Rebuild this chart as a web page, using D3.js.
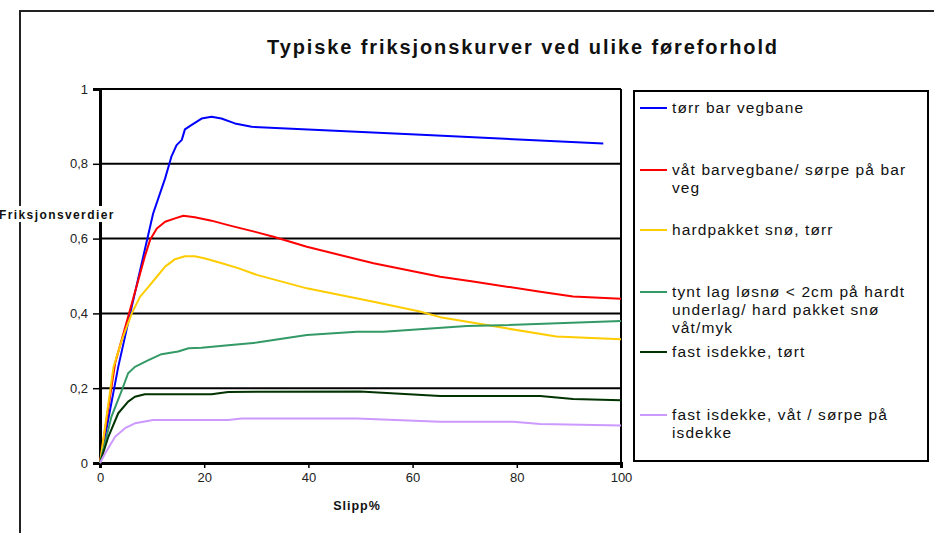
<!DOCTYPE html>
<html><head><meta charset="utf-8">
<script src="https://cdn.jsdelivr.net/npm/d3@7"></script>
<style>body{margin:0;background:#fff}svg{display:block;font-family:"Liberation Sans",Arial,sans-serif}</style>
</head><body><svg id="c" width="934" height="533"></svg>
<script>
const title = "Typiske friksjonskurver ved ulike føreforhold";
const yTitle = "Friksjonsverdier";
const xTitle = "Slipp%";
const xTicks = [0, 20, 40, 60, 80, 100];
const yTicks = [0, 0.2, 0.4, 0.6, 0.8, 1];
const seriesNames = ["tørr bar vegbane", "våt barvegbane/ sørpe på bar veg", "hardpakket snø, tørr", "tynt lag løsnø < 2cm på hardt underlag/ hard pakket snø våt/myk", "fast isdekke, tørt", "fast isdekke, våt / sørpe på isdekke"];
const legendLines = [["tørr bar vegbane"], ["våt barvegbane/ sørpe på bar", "veg"], ["hardpakket snø, tørr"], ["tynt lag løsnø < 2cm på hardt", "underlag/ hard pakket snø", "våt/myk"], ["fast isdekke, tørt"], ["fast isdekke, våt / sørpe på", "isdekke"]];
const colors = ["#0000ff", "#ff0000", "#ffcc00", "#339966", "#003300", "#cc99ff"];
// [slipp %, friction]
const blue = [[0,0],[3.5,0.257],[5.8,0.40],[8.6,0.57],[10.2,0.667],[12.5,0.761],[13.7,0.819],[14.7,0.85],[15.7,0.864],[16.3,0.892],[17.6,0.904],[19.5,0.921],[21.4,0.926],[23.3,0.921],[25.9,0.908],[29.1,0.899],[62.7,0.877],[96.6,0.854]];
const red = [[0,0],[2.9,0.267],[5.4,0.391],[7.35,0.489],[8.6,0.552],[9.6,0.596],[10.9,0.627],[12.5,0.645],[14.4,0.654],[16.0,0.661],[18.2,0.657],[21.4,0.648],[24.6,0.636],[29.8,0.618],[33.3,0.605],[39.7,0.578],[52.5,0.534],[65.3,0.498],[71.6,0.485],[84.5,0.458],[90.8,0.445],[100,0.439]];
const yellow = [[0,0],[2.6,0.257],[4.2,0.329],[6.1,0.40],[7.7,0.445],[9.3,0.471],[10.9,0.498],[12.5,0.525],[14.4,0.545],[16.3,0.553],[18.2,0.553],[20.2,0.547],[23.4,0.534],[26.5,0.521],[30.1,0.503],[39.7,0.467],[52.5,0.431],[61.4,0.405],[65.3,0.39],[78.0,0.360],[87.6,0.338],[100,0.331]];
const green = [[0,0],[2.2,0.124],[4.2,0.195],[5.4,0.24],[6.7,0.257],[9.3,0.275],[11.8,0.291],[15.0,0.298],[17.0,0.307],[19.5,0.308],[24.6,0.315],[30.1,0.322],[39.7,0.342],[49.3,0.351],[54.4,0.351],[70.4,0.366],[76.8,0.368],[100,0.380]];
const darkGreen = [[0,0],[1.6,0.070],[3.5,0.133],[5.4,0.164],[6.7,0.177],[8.6,0.184],[21.4,0.184],[24.6,0.190],[49.9,0.191],[65.3,0.179],[84.5,0.179],[90.8,0.171],[100,0.168]];
const lavender = [[0,0],[1.0,0.026],[2.9,0.070],[4.8,0.093],[6.7,0.106],[10.2,0.115],[24.6,0.115],[27.2,0.119],[49.3,0.119],[65.3,0.110],[79.3,0.110],[84.5,0.104],[100,0.100]];
const series = [blue, red, yellow, green, darkGreen, lavender];

const svg = d3.select("#c");
const x = d3.scaleLinear().domain([0, 100]).range([100, 621]);
const y = d3.scaleLinear().domain([0, 1]).range([463, 89]);

// outer frame
svg.append("path").attr("d", "M20,533 V11 H934").attr("fill", "none").attr("stroke", "#222").attr("stroke-width", 2);

// title
svg.append("text").attr("x", 523).attr("y", 54).attr("text-anchor", "middle")
  .attr("font-size", 20).attr("font-weight", "bold").attr("letter-spacing", 1.9).attr("fill", "#111").text(title);

// gridlines
svg.append("g").selectAll("line").data(yTicks.filter(d => d > 0)).join("line")
  .attr("x1", x(0)).attr("x2", x(100)).attr("y1", d => y(d)).attr("y2", d => y(d))
  .attr("stroke", "#000").attr("stroke-width", 2);
// right border
svg.append("line").attr("x1", x(100)).attr("x2", x(100)).attr("y1", y(1)).attr("y2", y(0)).attr("stroke", "#000").attr("stroke-width", 2);

// axes
const yAxis = d3.axisLeft(y).tickValues(yTicks).tickSize(7).tickPadding(5)
  .tickFormat(d => d === 0 ? "0" : d === 1 ? "1" : d3.format(".1f")(d).replace(".", ","));
const gy = svg.append("g").attr("transform", `translate(${x(0)},0)`).call(yAxis);
gy.select(".domain").attr("stroke", "#000").attr("stroke-width", 3);
gy.selectAll(".tick line").attr("stroke", "#000").attr("stroke-width", 1.5);
gy.selectAll("text").attr("font-size", 13).attr("fill", "#222").attr("font-family", "Liberation Sans, Arial, sans-serif");

const xAxis = d3.axisBottom(x).tickValues(xTicks).tickSize(5).tickPadding(5).tickFormat(d3.format("d"));
const gx = svg.append("g").attr("transform", `translate(0,${y(0)})`).call(xAxis);
gx.select(".domain").attr("stroke", "#000").attr("stroke-width", 3);
gx.selectAll(".tick line").attr("stroke", "#000").attr("stroke-width", 1.5);
gx.selectAll("text").attr("font-size", 13).attr("fill", "#222").attr("font-family", "Liberation Sans, Arial, sans-serif");

// axis titles
svg.append("rect").attr("x", 0).attr("y", 206).attr("width", 119).attr("height", 16).attr("fill", "#fff");
svg.append("text").attr("x", -1).attr("y", 219).attr("font-size", 12).attr("font-weight", "bold").attr("letter-spacing", 1.4).attr("fill", "#111").text(yTitle);
svg.append("text").attr("x", 357).attr("y", 510).attr("text-anchor", "middle").attr("font-size", 12.5).attr("font-weight", "bold").attr("letter-spacing", 1).attr("fill", "#111").text(xTitle);

// lines
const line = d3.line().x(d => x(d[0])).y(d => y(d[1]));
svg.append("g").selectAll("path").data(series).join("path")
  .attr("d", line).attr("fill", "none").attr("stroke", (d, i) => colors[i]).attr("stroke-width", 2).attr("stroke-linejoin", "round");

// legend
const lg = svg.append("g");
lg.append("rect").attr("x", 634).attr("y", 91).attr("width", 294).attr("height", 370).attr("fill", "#fff").attr("stroke", "#000").attr("stroke-width", 2);
const entryY = [108, 170, 230, 292, 352, 415];
seriesNames.forEach((name, i) => {
  lg.append("line").attr("x1", 640).attr("x2", 667).attr("y1", entryY[i]).attr("y2", entryY[i]).attr("stroke", colors[i]).attr("stroke-width", 2);
  const t = lg.append("text").attr("x", 672).attr("y", entryY[i] + 5).attr("font-size", 15.5).attr("letter-spacing", 1.1).attr("fill", "#111");
  legendLines[i].forEach((l, j) => t.append("tspan").attr("x", 672).attr("dy", j === 0 ? 0 : 18).text(l));
});
</script></body></html>
